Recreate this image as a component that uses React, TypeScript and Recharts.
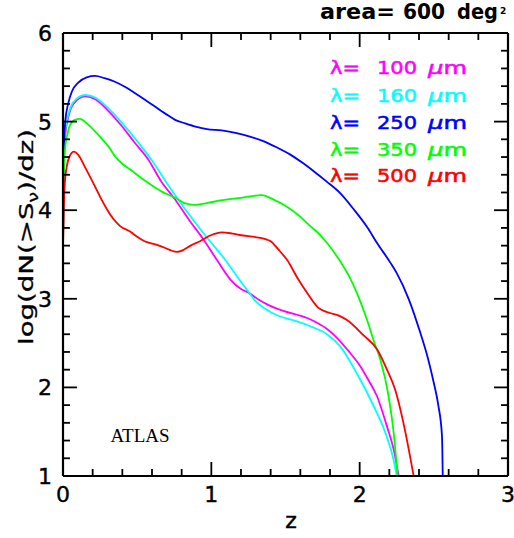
import React from 'react';
import { LineChart, Line, XAxis, YAxis, ReferenceLine } from 'recharts';

const xTicks = [0, 0.2, 0.4, 0.6, 0.8, 1, 1.2, 1.4, 1.6, 1.8, 2, 2.2, 2.4, 2.6, 2.8, 3];
const yTicks = [1, 1.2, 1.4, 1.6, 1.8, 2, 2.2, 2.4, 2.6, 2.8, 3, 3.2, 3.4, 3.6, 3.8, 4, 4.2, 4.4, 4.6, 4.8, 5, 5.2, 5.4, 5.6, 5.8, 6];

const wavelengths = ['100', '160', '250', '350', '500'];
const colors = ['#ff00ff', '#00ffff', '#0000ff', '#00ff00', '#ff0000'];

const z100 = [0, 0.005, 0.015, 0.036, 0.07, 0.15, 0.22, 0.3, 0.396, 0.48, 0.576, 0.66, 0.756, 0.85, 0.947, 1.037, 1.127, 1.2, 1.25, 1.32, 1.397, 1.49, 1.577, 1.65, 1.712, 1.78, 1.847, 1.92, 2.004, 2.06, 2.117, 2.184, 2.229, 2.263];
const v100 = [3.6, 4.4, 4.85, 5.05, 5.2, 5.285, 5.25, 5.13, 4.95, 4.77, 4.57, 4.33, 4.12, 3.89, 3.67, 3.44, 3.22, 3.11, 3.07, 2.99, 2.92, 2.86, 2.82, 2.78, 2.73, 2.66, 2.56, 2.42, 2.24, 2.08, 1.9, 1.56, 1.3, 1.0];

const z160 = [0, 0.005, 0.015, 0.036, 0.07, 0.15, 0.22, 0.3, 0.4, 0.5, 0.6, 0.722, 0.82, 0.947, 1.093, 1.183, 1.25, 1.3, 1.352, 1.464, 1.567, 1.667, 1.78, 1.87, 1.98, 2.094, 2.173, 2.229, 2.25];
const v160 = [3.6, 4.45, 4.9, 5.08, 5.22, 5.3, 5.27, 5.16, 4.98, 4.78, 4.56, 4.25, 4.02, 3.74, 3.44, 3.23, 3.08, 2.97, 2.9, 2.8, 2.75, 2.69, 2.6, 2.46, 2.16, 1.79, 1.49, 1.18, 1.0];

const z250 = [0, 0.005, 0.015, 0.036, 0.06, 0.103, 0.16, 0.216, 0.28, 0.35, 0.42, 0.486, 0.55, 0.62, 0.69, 0.756, 0.823, 0.9, 0.97, 1.07, 1.17, 1.26, 1.35, 1.44, 1.53, 1.61, 1.69, 1.78, 1.87, 1.96, 2.05, 2.117, 2.21, 2.25, 2.33, 2.41, 2.46, 2.5, 2.53, 2.555, 2.56];
const v250 = [3.6, 4.6, 5.0, 5.21, 5.34, 5.44, 5.5, 5.515, 5.49, 5.45, 5.39, 5.32, 5.25, 5.17, 5.09, 5.02, 4.98, 4.94, 4.915, 4.9, 4.87, 4.83, 4.78, 4.71, 4.63, 4.54, 4.44, 4.32, 4.19, 4.01, 3.81, 3.63, 3.4, 3.29, 3.0, 2.61, 2.33, 2.05, 1.8, 1.45, 1.0];

const z350 = [0, 0.005, 0.013, 0.03, 0.047, 0.08, 0.115, 0.16, 0.216, 0.26, 0.306, 0.35, 0.396, 0.46, 0.53, 0.6, 0.666, 0.756, 0.82, 0.88, 0.97, 1.06, 1.2, 1.34, 1.42, 1.51, 1.59, 1.667, 1.734, 1.78, 1.87, 1.93, 1.98, 2.05, 2.1, 2.14, 2.195, 2.229, 2.256];
const v350 = [3.6, 4.3, 4.68, 4.86, 4.96, 5.02, 5.03, 4.98, 4.89, 4.81, 4.72, 4.61, 4.53, 4.45, 4.36, 4.28, 4.21, 4.14, 4.08, 4.06, 4.08, 4.11, 4.14, 4.17, 4.12, 4.04, 3.94, 3.82, 3.72, 3.63, 3.42, 3.25, 3.07, 2.76, 2.5, 2.31, 1.9, 1.49, 1.0];

const z500 = [0, 0.005, 0.012, 0.025, 0.045, 0.074, 0.1, 0.15, 0.227, 0.26, 0.3, 0.34, 0.385, 0.452, 0.5, 0.55, 0.61, 0.666, 0.767, 0.81, 0.86, 0.924, 1.0, 1.07, 1.13, 1.19, 1.32, 1.37, 1.4, 1.45, 1.51, 1.586, 1.644, 1.72, 1.8, 1.86, 1.914, 2.025, 2.117, 2.184, 2.24, 2.295, 2.364];
const v500 = [3.58, 4.0, 4.3, 4.49, 4.61, 4.66, 4.63, 4.48, 4.23, 4.12, 4.0, 3.9, 3.82, 3.76, 3.7, 3.65, 3.62, 3.59, 3.53, 3.55, 3.6, 3.65, 3.72, 3.75, 3.74, 3.72, 3.69, 3.67, 3.65, 3.56, 3.44, 3.22, 3.07, 2.9, 2.84, 2.81, 2.76, 2.59, 2.43, 2.2, 1.97, 1.6, 1.0];

const zip = (zs: number[], vs: number[]) => zs.map((z, i) => ({ z, v: vs[i] }));
const seriesData = [zip(z100, v100), zip(z160, v160), zip(z250, v250), zip(z350, v350), zip(z500, v500)];

const X_MIN = 0, X_MAX = 3, Y_MIN = 1, Y_MAX = 6;
// tick mark lengths in data units (major / minor)
const XT_MAJOR = 0.158, XT_MINOR = 0.079; // vertical marks on bottom/top edges (y units)
const YT_MAJOR = 0.094, YT_MINOR = 0.047; // horizontal marks on left/right edges (x units)

const FONT = '"DejaVu Sans", sans-serif';
const isMajor = (v: number) => Math.abs(v - Math.round(v)) < 1e-6;

// each tick mark is a tiny two-point line placed through the chart's own scales
const tickSegments: { key: string; data: { z: number; v: number }[] }[] = [];
xTicks.forEach((t) => {
  const len = isMajor(t) ? XT_MAJOR : XT_MINOR;
  tickSegments.push({ key: 'xb' + t, data: [{ z: t, v: Y_MIN }, { z: t, v: Y_MIN + len }] });
  tickSegments.push({ key: 'xt' + t, data: [{ z: t, v: Y_MAX - len }, { z: t, v: Y_MAX }] });
});
yTicks.forEach((t) => {
  const len = isMajor(t) ? YT_MAJOR : YT_MINOR;
  tickSegments.push({ key: 'yl' + t, data: [{ z: X_MIN, v: t }, { z: X_MIN + len, v: t }] });
  tickSegments.push({ key: 'yr' + t, data: [{ z: X_MAX - len, v: t }, { z: X_MAX, v: t }] });
});

function BottomLabel(props: any) {
  const { x, y, payload } = props;
  if (!isMajor(payload.value)) return <g />;
  return (
    <text x={x} y={y + 26} textAnchor="middle" fontFamily={FONT} fontSize={22} fill="#000" stroke="#000" strokeWidth={0.4}>
      {Math.round(payload.value)}
    </text>
  );
}
function LeftLabel(props: any) {
  const { x, y, payload } = props;
  if (!isMajor(payload.value)) return <g />;
  return (
    <text x={x - 11} y={y + 8} textAnchor="end" fontFamily={FONT} fontSize={22} fill="#000" stroke="#000" strokeWidth={0.4}>
      {Math.round(payload.value)}
    </text>
  );
}

const legendBaselines = [74, 101.5, 128.5, 155.5, 182];

export default function App() {
  return (
    <div style={{ position: 'absolute', left: 0, top: 0, width: 514, height: 538, background: '#fff' }}>
      <LineChart width={514} height={538} margin={{ top: 33, right: 6, bottom: 22, left: 8 }}>
        <XAxis xAxisId="b" dataKey="z" type="number" domain={[X_MIN, X_MAX]} ticks={xTicks} interval={0} allowDataOverflow
          height={40} tickSize={0} tickMargin={0} tickLine={false} tick={<BottomLabel />} axisLine={false} />
        <YAxis yAxisId="l" dataKey="v" type="number" domain={[Y_MIN, Y_MAX]} ticks={yTicks} interval={0} allowDataOverflow
          width={55} tickSize={0} tickMargin={0} tickLine={false} tick={<LeftLabel />} axisLine={false} />
        {seriesData.map((d, i) => (
          <Line key={wavelengths[i]} xAxisId="b" yAxisId="l" data={d} dataKey="v" type="monotone"
            stroke={colors[i]} strokeWidth={1.8} dot={false} activeDot={false} isAnimationActive={false} />
        ))}
        {tickSegments.map((s) => (
          <Line key={s.key} xAxisId="b" yAxisId="l" data={s.data} dataKey="v" type="linear"
            stroke="#000" strokeWidth={1.8} dot={false} activeDot={false} isAnimationActive={false} legendType="none" />
        ))}
        <ReferenceLine xAxisId="b" yAxisId="l" x={X_MIN} ifOverflow="visible" stroke="#000" strokeWidth={2.2} />
        <ReferenceLine xAxisId="b" yAxisId="l" x={X_MAX} ifOverflow="visible" stroke="#000" strokeWidth={2.2} />
        <ReferenceLine xAxisId="b" yAxisId="l" y={Y_MIN} ifOverflow="visible" stroke="#000" strokeWidth={2.2} />
        <ReferenceLine xAxisId="b" yAxisId="l" y={Y_MAX} ifOverflow="visible" stroke="#000" strokeWidth={2.2} />
      </LineChart>
      <svg width={514} height={538} style={{ position: 'absolute', left: 0, top: 0, pointerEvents: 'none' }}>
        <g fontFamily={FONT} fontWeight="bold" fontSize={21} fill="#000">
          <text x={320} y={18.5} textLength={75} lengthAdjust="spacingAndGlyphs">area=</text>
          <text x={403} y={18.5} textLength={42} lengthAdjust="spacingAndGlyphs">600</text>
          <text x={457} y={18.5} textLength={41} lengthAdjust="spacingAndGlyphs">deg</text>
          <text x={500} y={14} fontSize={9}>2</text>
        </g>
        {wavelengths.map((w, i) => (
          <g key={w} fontFamily={FONT} fontSize={17} fill={colors[i]} stroke={colors[i]} strokeWidth={0.5}>
            <text x={330} y={legendBaselines[i]} textLength={30} lengthAdjust="spacingAndGlyphs">λ=</text>
            <text x={377} y={legendBaselines[i]} textLength={40} lengthAdjust="spacingAndGlyphs">{w}</text>
            <text x={428} y={legendBaselines[i]} textLength={39} lengthAdjust="spacingAndGlyphs">
              <tspan fontStyle="italic">μ</tspan>m
            </text>
          </g>
        ))}
        <text x={110.5} y={442} fontFamily='"Liberation Serif", serif' fontSize={19} fill="#000">ATLAS</text>
        <text x={291} y={528} textAnchor="middle" fontFamily={FONT} fontSize={22} fill="#000" stroke="#000" strokeWidth={0.5}>z</text>
        <text transform="translate(33,237) rotate(-90)" textAnchor="middle" fontFamily={FONT} fontSize={20} fill="#000"
          stroke="#000" strokeWidth={0.3} textLength={216} lengthAdjust="spacingAndGlyphs">
          log(dN(&gt;S<tspan fontSize={14} dy={5}>ν</tspan><tspan dy={-5}>)/dz)</tspan>
        </text>
      </svg>
    </div>
  );
}
